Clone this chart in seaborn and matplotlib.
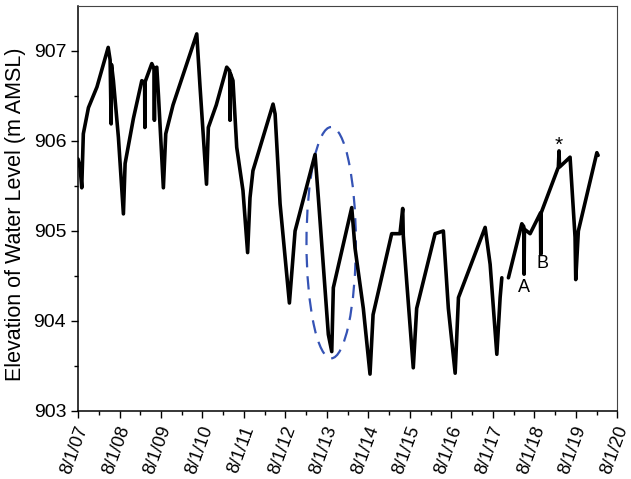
import pandas as pd
import numpy as np
import matplotlib
matplotlib.use("Agg")
import matplotlib.pyplot as plt
import matplotlib.dates as mdates
from matplotlib.patches import Ellipse
from matplotlib.transforms import ScaledTranslation
import seaborn as sns

# Water level record
dates = [
    "2007-08-01", "2007-08-20", "2007-09-03", "2007-09-17", "2007-11-01", "2008-01-15",
    "2008-04-23", "2008-05-10", "2008-05-19", "2008-05-22", "2008-06-08", "2008-07-22",
    "2008-09-04", "2008-09-19", "2008-12-01", "2009-02-13", "2009-03-10", "2009-03-12",
    "2009-03-15", "2009-05-12", "2009-06-02", "2009-06-04", "2009-06-06", "2009-06-25",
    "2009-07-10", "2009-08-22", "2009-09-12", "2009-11-15", "2010-06-12", "2010-07-11",
    "2010-09-06", "2010-09-22", "2010-12-01", "2011-03-03", "2011-03-29", "2011-04-01",
    "2011-04-04", "2011-04-27", "2011-05-30", "2011-07-24", "2011-09-03", "2011-09-24",
    "2011-10-20", "2012-04-14", "2012-05-02", "2012-06-15", "2012-09-05", "2012-10-25",
    "2013-04-19", "2013-05-18", "2013-08-14", "2013-09-13", "2013-09-27", "2014-03-08",
    "2014-04-06", "2014-06-18", "2014-08-16", "2014-09-12", "2015-02-23", "2015-05-07",
    "2015-05-31", "2015-06-05", "2015-07-05", "2015-09-01", "2015-10-01", "2016-03-11",
    "2016-05-23", "2016-07-06", "2016-09-04", "2016-10-03", "2017-05-26", "2017-07-09",
    "2017-09-06", "2017-10-05", "2017-10-20",
]
levels = [
    905.80, 905.70, 905.48, 906.08, 906.37, 906.60,
    907.04, 906.90, 906.19, 906.85, 906.67, 906.04,
    905.19, 905.75, 906.25, 906.67, 906.65, 906.15,
    906.66, 906.86, 906.80, 906.23, 906.80, 906.82,
    906.50, 905.48, 906.08, 906.40, 907.19, 906.60,
    905.52, 906.15, 906.40, 906.82, 906.78, 906.23,
    906.75, 906.67, 905.93, 905.45, 904.76, 905.37,
    905.67, 906.41, 906.30, 905.30, 904.20, 905.00,
    905.85, 905.37, 903.85, 903.66, 904.37, 905.26,
    904.81, 904.14, 903.41, 904.07, 904.97, 904.97,
    905.25, 904.95, 904.44, 903.48, 904.14, 904.97,
    905.00, 904.14, 903.42, 904.26, 905.04, 904.63,
    903.63, 904.26, 904.48,
]
# record resumes after a short gap
dates2 = [
    "2017-12-17", "2018-04-14", "2018-05-01", "2018-05-04", "2018-05-07", "2018-06-26",
    "2018-09-25", "2018-09-28", "2018-10-01", "2019-03-02", "2019-03-08", "2019-03-12",
    "2019-06-13", "2019-07-27", "2019-08-02", "2019-08-25", "2020-02-04", "2020-02-15",
]
levels2 = [
    904.48, 905.08, 905.05, 904.52, 905.02, 904.97,
    905.20, 904.74, 905.20, 905.71, 905.89, 905.71,
    905.82, 904.93, 904.46, 905.00, 905.87, 905.84,
]

df = pd.DataFrame({
    "date": pd.to_datetime(dates + dates2),
    "level": levels + levels2,
    "segment": [0] * len(dates) + [1] * len(dates2),
})

sns.set_style("ticks")
plt.rcParams["font.family"] = ["Liberation Sans", "DejaVu Sans"]
plt.rcParams["text.color"] = "black"
plt.rcParams["axes.labelcolor"] = "black"
plt.rcParams["xtick.color"] = "black"
plt.rcParams["ytick.color"] = "black"
plt.rcParams["axes.edgecolor"] = "black"

fig = plt.figure(figsize=(6.31, 4.79), dpi=100)
ax = fig.add_axes([0.1236, 0.142, 0.8545, 0.8455])

sns.lineplot(data=df, x="date", y="level", units="segment", estimator=None,
             color="black", linewidth=2.6, ax=ax, legend=False)

# dashed ellipse around the 2013 cycle
cx = mdates.date2num(pd.Timestamp("2013-09-08"))
ax.add_patch(Ellipse((cx, 904.87), width=435, height=2.57, fill=False,
                     edgecolor="#3553b5", linewidth=1.6, linestyle=(0, (6, 4))))

ax.text(pd.Timestamp("2018-05-04"), 904.37, "A", fontsize=13, ha="center", va="center")
ax.text(pd.Timestamp("2018-10-10"), 904.64, "B", fontsize=13, ha="center", va="center")
ax.text(pd.Timestamp("2019-03-08"), 905.95, "*", fontsize=15, ha="center", va="center")

ax.set_xlim(pd.Timestamp("2007-08-01"), pd.Timestamp("2020-08-01"))
ax.set_ylim(903, 907.5)
ax.set_yticks([903, 904, 905, 906, 907])
ax.set_yticks(np.arange(903.5, 907.5, 1.0), minor=True)
ax.xaxis.set_major_locator(mdates.MonthLocator(bymonth=[8], bymonthday=1))
ax.xaxis.set_minor_locator(mdates.MonthLocator(bymonth=[2], bymonthday=1))
ax.xaxis.set_major_formatter(mdates.DateFormatter("%-m/%-d/%y"))

ax.set_xlabel("")
ax.set_ylabel("Elevation of Water Level (m AMSL)", fontsize=15.5)
ax.yaxis.set_label_coords(-0.097, 0.485)
ax.tick_params(axis="y", which="major", labelsize=14, length=5, width=1, direction="out")
ax.tick_params(axis="x", which="major", labelsize=13, length=5, width=1, direction="out", pad=4)
ax.tick_params(axis="both", which="minor", length=3, width=1, direction="out")

# rotated date labels, nudged a little left so the last one stays inside
shift = ScaledTranslation(-3 / 100, 0, fig.dpi_scale_trans)
for lab in ax.get_xticklabels():
    lab.set_rotation(70)
    lab.set_ha("center")
    lab.set_transform(lab.get_transform() + shift)

for side in ["left", "bottom"]:
    ax.spines[side].set_linewidth(1.1)
for side in ["top", "right"]:
    ax.spines[side].set_linewidth(0.8)
    ax.spines[side].set_color("#444444")

fig.savefig("out.png", dpi=100)
